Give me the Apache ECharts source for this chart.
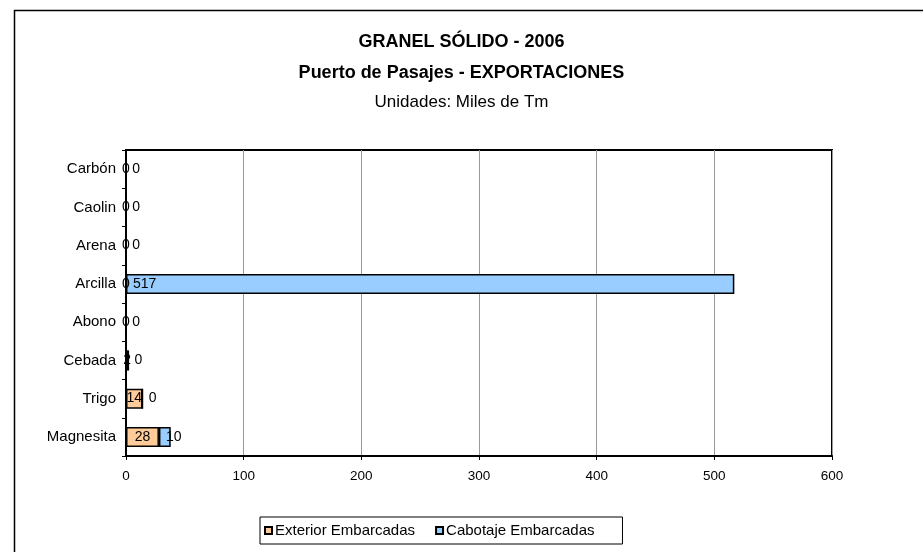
<!DOCTYPE html>
<html>
<head>
<meta charset="utf-8">
<script src="https://cdn.jsdelivr.net/npm/echarts@6/dist/echarts.min.js"></script>
<style>
  html, body { margin: 0; padding: 0; background: #fff; }
  #chart { width: 923px; height: 552px; }
</style>
</head>
<body>
<div id="chart"></div>
<script>
// categories bottom to top, as in the picture
var categories = ['Magnesita', 'Trigo', 'Cebada', 'Abono', 'Arcilla', 'Arena', 'Caolin', 'Carbón'];
var exterior = [28, 14, 2, 0, 0, 0, 0, 0];
var cabotaje = [10, 0, 0, 0, 517, 0, 0, 0];
var xTicks = [0, 100, 200, 300, 400, 500, 600];

var font = 'Liberation Sans, Arial, sans-serif';
var myChart = echarts.init(document.getElementById('chart'));

var option = {
    backgroundColor: '#fff',
    animation: false,
    graphic: [{
        type: 'rect',
        shape: { x: 14.5, y: 10.5, width: 1200, height: 1200 },
        style: { fill: 'none', stroke: '#000', lineWidth: 1.5 },
        silent: true
    }],
    title: [{
        text: 'GRANEL SÓLIDO - 2006',
        left: 'center', top: 28,
        textStyle: { fontFamily: font, fontSize: 18, fontWeight: 'bold', color: '#000' }
    }, {
        text: 'Puerto de Pasajes - EXPORTACIONES',
        left: 'center', top: 59,
        textStyle: { fontFamily: font, fontSize: 18, fontWeight: 'bold', color: '#000' }
    }, {
        text: 'Unidades: Miles de Tm',
        left: 'center', top: 89,
        textStyle: { fontFamily: font, fontSize: 17, fontWeight: 'normal', color: '#000' }
    }],
    legend: {
        left: 260, top: 517,
        padding: [6, 28, 6, 4],
        itemGap: 20,
        itemWidth: 7, itemHeight: 7,
        icon: 'rect',
        borderColor: '#000', borderWidth: 1,
        textStyle: { fontFamily: font, fontSize: 15, color: '#000', padding: [0, 0, 0, -2] },
        data: ['Exterior Embarcadas', 'Cabotaje Embarcadas']
    },
    grid: {
        left: 126, top: 150, right: 91, bottom: 96,
        show: true, borderColor: '#000', borderWidth: 2,
        containLabel: false
    },
    xAxis: {
        type: 'value',
        min: xTicks[0], max: xTicks[xTicks.length - 1], interval: 100,
        axisLine: { show: true, lineStyle: { color: '#000', width: 2 } },
        axisTick: { show: true, length: 4, lineStyle: { color: '#000' } },
        axisLabel: { margin: 13, fontFamily: font, fontSize: 13.5, color: '#000' },
        splitLine: { show: true, lineStyle: { color: '#999', width: 1 } }
    },
    yAxis: {
        type: 'category',
        data: categories,
        axisLine: { show: true, lineStyle: { color: '#000', width: 2 } },
        axisTick: { show: true, length: 4, alignWithLabel: false, lineStyle: { color: '#000' } },
        axisLabel: { margin: 10, fontFamily: font, fontSize: 15, color: '#000' },
        splitLine: { show: false }
    },
    series: [{
        name: 'Exterior Embarcadas',
        type: 'bar',
        stack: 'total',
        barWidth: 20,
        data: exterior,
        itemStyle: { color: '#FFCC99', borderColor: '#000', borderWidth: 1.5 },
        label: { show: true, position: 'inside', fontFamily: font, fontSize: 14, color: '#000' }
    }, {
        name: 'Cabotaje Embarcadas',
        type: 'bar',
        stack: 'total',
        barWidth: 20,
        data: cabotaje,
        itemStyle: { color: '#99CCFF', borderColor: '#000', borderWidth: 1.5 },
        label: { show: true, position: 'insideLeft', distance: 7, fontFamily: font, fontSize: 14, color: '#000' }
    }]
};

option && myChart.setOption(option);
</script>
</body>
</html>
